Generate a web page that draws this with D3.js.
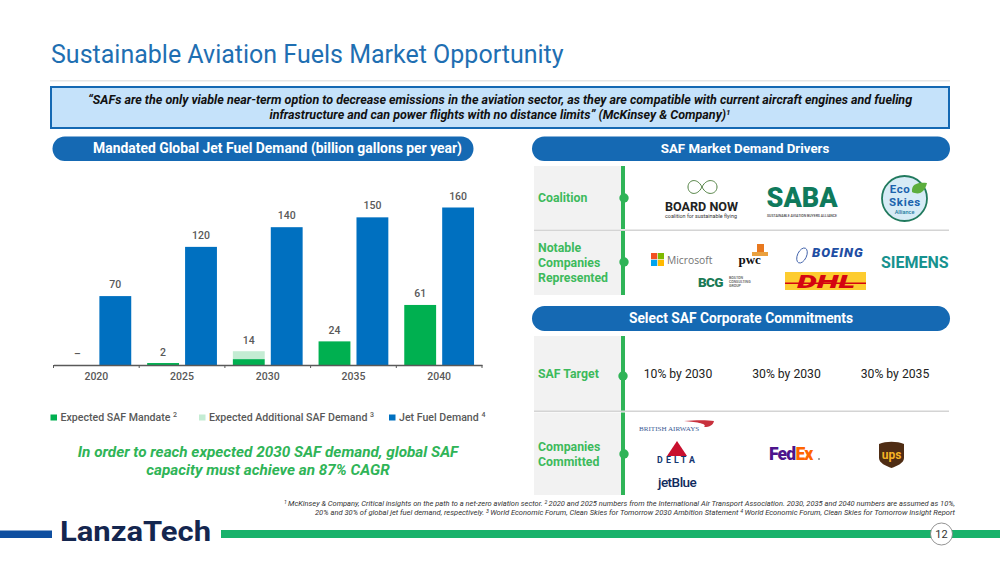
<!DOCTYPE html>
<html>
<head>
<meta charset="utf-8">
<script src="https://cdn.jsdelivr.net/npm/d3@7"></script>
<style>
  html, body { margin: 0; padding: 0; background: #fff; }
  svg { display: block; font-family: Roboto, sans-serif; }
</style>
</head>
<body>
<svg id="slide" width="1000" height="562"></svg>
<script>
// --- chart data
const YEARS = ['2020', '2025', '2030', '2035', '2040'];
const SAF_MANDATE = [0, 2, 6, 24, 61];
const SAF_ADDITIONAL = [0, 0, 8, 0, 0];
const JET_FUEL = [70, 120, 140, 150, 160];
const LEGEND_LABELS = ['Expected SAF Mandate', 'Expected Additional SAF Demand', 'Jet Fuel Demand'];
const LEGEND_NOTES = ['2', '3', '4'];
const TARGETS = ['10% by 2030', '30% by 2030', '30% by 2035'];

const BLUE = '#1569b3';
const BAR_BLUE = '#0070c0';
const BAR_GREEN = '#00b050';
const BAR_LIGHT = '#c4ecd3';
const LABEL_GREEN = '#3dba5c';
const GREY_TEXT = '#595959';

const svg = d3.select('#slide');

drawHeader();
drawChart();
drawDrivers();
drawCommitments();
drawFooter();

function addText(parent, str, x, y, size, fill, opts = {}) {
    return parent.append('text')
        .attr('x', x)
        .attr('y', y)
        .attr('font-size', size)
        .attr('fill', fill)
        .attr('text-anchor', opts.anchor || 'start')
        .attr('font-weight', opts.weight || 400)
        .attr('font-style', opts.style || 'normal')
        .attr('font-family', opts.family || null)
        .attr('letter-spacing', opts.spacing || null)
        .text(str);
}

function addPill(x, y, w, h, label, size, textX) {
    svg.append('rect')
        .attr('x', x).attr('y', y).attr('width', w).attr('height', h)
        .attr('rx', h / 2)
        .attr('fill', BLUE);
    addText(svg, label, textX, y + h / 2 + 4.5, size, '#fff', { anchor: 'middle', weight: 700 });
}

function drawHeader() {
    addText(svg, 'Sustainable Aviation Fuels Market Opportunity', 51, 63, 25, '#1f6fb2');
    svg.append('rect').attr('x', 50).attr('y', 80).attr('width', 900).attr('height', 1.5).attr('fill', '#e6e6e6');

    svg.append('rect')
        .attr('x', 51).attr('y', 87).attr('width', 898).attr('height', 41)
        .attr('fill', '#c5e2fa')
        .attr('stroke', BLUE)
        .attr('stroke-width', 2);

    addText(svg, '“SAFs are the only viable near-term option to decrease emissions in the aviation sector, as they are compatible with current aircraft engines and fueling',
        500, 104, 12.5, '#111', { anchor: 'middle', weight: 700, style: 'italic' });
    let second = addText(svg, 'infrastructure and can power flights with no distance limits” (McKinsey & Company)',
        500, 119, 12.5, '#111', { anchor: 'middle', weight: 700, style: 'italic' });
    second.append('tspan').attr('font-size', 8).attr('dy', -4).text('1');

    addPill(52.5, 136.5, 421, 24.5, 'Mandated Global Jet Fuel Demand (billion gallons per year)', 13.9, 277.5);
    addPill(532, 136.5, 418, 24.5, 'SAF Market Demand Drivers', 13.3, 745);
    addPill(532, 306, 418, 25, 'Select SAF Corporate Commitments', 13.8, 741);
}

function drawChart() {
    const axisY = 365;

    const x = d3.scaleBand()
        .domain(YEARS)
        .range([53.5, 482]);

    const inner = d3.scaleBand()
        .domain(['saf', 'jet'])
        .range([0, x.bandwidth()])
        .paddingInner(0.16)
        .paddingOuter(0.21);

    const y = d3.scaleLinear()
        .domain([0, 160])
        .range([axisY, 207.5]);

    const rows = YEARS.map((year, i) => ({
        year,
        mandate: SAF_MANDATE[i],
        additional: SAF_ADDITIONAL[i],
        jet: JET_FUEL[i]
    }));

    const stack = d3.stack().keys(['mandate', 'additional'])(rows);
    const stackColors = [BAR_GREEN, BAR_LIGHT];

    let g = svg.append('g').attr('class', 'chart');

    g.selectAll('g.saf')
        .data(stack)
        .enter()
        .append('g')
        .attr('class', 'saf')
        .attr('fill', (d, i) => stackColors[i])
        .selectAll('rect')
        .data(d => d)
        .enter()
        .append('rect')
        .attr('x', d => x(d.data.year) + inner('saf'))
        .attr('width', inner.bandwidth())
        .attr('y', d => y(d[1]))
        .attr('height', d => y(d[0]) - y(d[1]));

    g.selectAll('rect.jet')
        .data(rows)
        .enter()
        .append('rect')
        .attr('class', 'jet')
        .attr('fill', BAR_BLUE)
        .attr('x', d => x(d.year) + inner('jet'))
        .attr('width', inner.bandwidth())
        .attr('y', d => y(d.jet))
        .attr('height', d => y(0) - y(d.jet));

    // --- value labels
    g.selectAll('text.safLabel')
        .data(rows)
        .enter()
        .append('text')
        .attr('class', 'safLabel')
        .attr('x', d => x(d.year) + inner('saf') + inner.bandwidth() / 2)
        .attr('y', d => y(d.mandate + d.additional) - 7.5)
        .attr('text-anchor', 'middle')
        .attr('font-size', 10.5)
        .attr('font-weight', 500)
        .attr('fill', GREY_TEXT)
        .text(d => (d.mandate + d.additional) === 0 ? '–' : d.mandate + d.additional);

    g.selectAll('text.jetLabel')
        .data(rows)
        .enter()
        .append('text')
        .attr('class', 'jetLabel')
        .attr('x', d => x(d.year) + inner('jet') + inner.bandwidth() / 2)
        .attr('y', d => y(d.jet) - 8)
        .attr('text-anchor', 'middle')
        .attr('font-size', 10.5)
        .attr('font-weight', 500)
        .attr('fill', GREY_TEXT)
        .text(d => d.jet);

    // --- axis, ticks sit on the band edges
    let axis = g.append('g')
        .attr('transform', `translate(0, ${axisY})`)
        .call(d3.axisBottom(x).tickSize(0).tickPadding(8));
    axis.select('.domain').attr('stroke', '#595959').attr('stroke-width', 1.5);
    axis.selectAll('text')
        .attr('font-family', 'Roboto, sans-serif')
        .attr('font-size', 10.5)
        .attr('font-weight', 500)
        .attr('fill', GREY_TEXT);
    axis.selectAll('line.edge')
        .data(d3.range(YEARS.length + 1))
        .enter()
        .append('line')
        .attr('class', 'edge')
        .attr('x1', i => x.range()[0] + i * x.step())
        .attr('x2', i => x.range()[0] + i * x.step())
        .attr('y1', 0)
        .attr('y2', 3)
        .attr('stroke', '#595959')
        .attr('stroke-width', 1);

    // --- legend
    const legendX = [50.5, 199, 389];
    const legendColors = [BAR_GREEN, BAR_LIGHT, BAR_BLUE];
    LEGEND_LABELS.forEach((label, i) => {
        g.append('rect')
            .attr('x', legendX[i]).attr('y', 414.5).attr('width', 6.5).attr('height', 6)
            .attr('fill', legendColors[i]);
        let t = addText(g, label + ' ', legendX[i] + 10, 421, 10.6, GREY_TEXT, { weight: 500 });
        t.append('tspan').attr('font-size', 7).attr('dy', -4).text(LEGEND_NOTES[i]);
    });

    addText(svg, 'In order to reach expected 2030 SAF demand, global SAF', 268, 456.5, 15.3, '#2fb457',
        { anchor: 'middle', weight: 700, style: 'italic' });
    addText(svg, 'capacity must achieve an 87% CAGR', 268, 475, 15.3, '#2fb457',
        { anchor: 'middle', weight: 700, style: 'italic' });
}

function addRowPanel(y, h, dotX, dotY, lines, firstBaseline) {
    svg.append('rect').attr('x', 534).attr('y', y).attr('width', 87).attr('height', h).attr('fill', '#f2f2f2');
    svg.append('rect').attr('x', 621).attr('y', y).attr('width', 4).attr('height', h).attr('fill', '#2fb457');
    svg.append('circle').attr('cx', dotX).attr('cy', dotY).attr('r', 4.7).attr('fill', '#2fb457');
    lines.forEach((line, i) => {
        addText(svg, line, 538, firstBaseline + i * 15, 12.3, LABEL_GREEN, { weight: 700 });
    });
}

function addSeparator(y) {
    svg.append('rect').attr('x', 534).attr('y', y).attr('width', 415).attr('height', 1.5).attr('fill', '#d4d4d4');
}

function drawDrivers() {
    addRowPanel(166, 63, 624, 198, ['Coalition'], 202);
    addRowPanel(231, 64, 624, 262, ['Notable', 'Companies', 'Represented'], 252);
    addSeparator(229.5);

    // --- board now
    svg.append('path')
        .attr('d', 'M702 187 C697 177 688 180 688 187 C688 194 697 197 702 187 C707 177 717 180 717 187 C717 194 707 197 702 187')
        .attr('fill', 'none')
        .attr('stroke', '#4f7f3f')
        .attr('stroke-width', 1);
    addText(svg, 'BOARD NOW', 665, 211, 12.6, '#222', { weight: 700 });
    addText(svg, 'coalition for sustainable flying', 665, 218, 5.4, '#333');

    // --- saba
    addText(svg, 'SABA', 766.5, 207, 27, '#0f7a5c', { weight: 900 });
    addText(svg, 'SUSTAINABLE AVIATION BUYERS ALLIANCE', 767, 216.5, 3.5, '#444', { weight: 500 });

    // --- eco skies
    svg.append('circle')
        .attr('cx', 904.5).attr('cy', 198.5).attr('r', 22.5)
        .attr('fill', '#d6ebf6')
        .attr('stroke', '#217a5e')
        .attr('stroke-width', 1.8);
    svg.append('path').attr('d', 'M912 192 C911 184 918 182 927 183 C925 191 920 196 912 192').attr('fill', '#5cae3d');
    addText(svg, 'Eco', 900, 192.5, 11.5, '#1b63ad', { anchor: 'middle', weight: 700, spacing: 0.5 });
    addText(svg, 'Skies', 905, 206, 11.5, '#1b63ad', { anchor: 'middle', weight: 700, spacing: 0.7 });
    addText(svg, 'Alliance', 904.5, 214, 5.5, '#1b7a9f', { anchor: 'middle', weight: 500 });

    // --- microsoft
    const msColors = ['#f25022', '#7fba00', '#00a4ef', '#ffb900'];
    msColors.forEach((color, i) => {
        svg.append('rect')
            .attr('x', 651 + (i % 2) * 6.8).attr('y', 253 + Math.floor(i / 2) * 6.8)
            .attr('width', 6.2).attr('height', 6.2)
            .attr('fill', color);
    });
    addText(svg, 'Microsoft', 667, 264, 10.3, '#737373', { family: '"Open Sans", sans-serif' });

    // --- pwc
    svg.append('rect').attr('x', 757).attr('y', 244).attr('width', 7).attr('height', 9).attr('fill', '#e8781f');
    svg.append('rect').attr('x', 752).attr('y', 252).attr('width', 16).attr('height', 4).attr('fill', '#eaa13f');
    addText(svg, 'pwc', 738.5, 264, 13, '#111', { weight: 700, family: '"Liberation Serif", serif' });

    // --- boeing
    svg.append('ellipse')
        .attr('cx', 802).attr('cy', 255.5).attr('rx', 4.5).attr('ry', 8)
        .attr('transform', 'rotate(25 802 255.5)')
        .attr('fill', 'none')
        .attr('stroke', '#2a4fa0')
        .attr('stroke-width', 0.8);
    addText(svg, 'BOEING', 812, 256.5, 13.2, '#1f4ea3', { weight: 900, style: 'italic', spacing: 1 });

    // --- dhl
    svg.append('rect').attr('x', 785).attr('y', 272).attr('width', 81).attr('height', 18).attr('fill', '#fdcc2f');
    svg.append('rect').attr('x', 785).attr('y', 282.5).attr('width', 81).attr('height', 1.5).attr('fill', '#d40511');
    addText(svg, 'DHL', 797, 287.5, 18, '#d40511', { weight: 900, style: 'italic' })
        .attr('textLength', 58)
        .attr('lengthAdjust', 'spacingAndGlyphs');

    // --- bcg
    addText(svg, 'BCG', 698, 287, 13.5, '#1a7a55', { weight: 900, spacing: -0.6 });
    ['BOSTON', 'CONSULTING', 'GROUP'].forEach((line, i) => {
        addText(svg, line, 729, 278.5 + i * 4.3, 3.6, '#555', { weight: 500 });
    });

    addText(svg, 'SIEMENS', 881, 268, 16, '#17928f', { weight: 700 });
}

function drawCommitments() {
    addRowPanel(336, 75, 623, 376, ['SAF Target'], 378);
    addRowPanel(412.5, 82.5, 624, 454, ['Companies', 'Committed'], 450.5);
    addSeparator(410.5);

    const targetX = [678, 786.5, 895];
    TARGETS.forEach((label, i) => {
        addText(svg, label, targetX[i], 378, 12.2, '#222', { anchor: 'middle' });
    });

    // --- british airways
    svg.append('path')
        .attr('d', 'M684 421 C695 420 708 420 714 421 C713 425 710 427 704 427 C708 424 698 422 684 421')
        .attr('fill', '#c8313c');
    addText(svg, 'BRITISH AIRWAYS', 639, 431, 7.1, '#3b5b94', { weight: 500, family: '"Liberation Serif", serif' });

    // --- delta
    svg.append('path').attr('d', 'M677 441 L667 456 L687 456 Z').attr('fill', '#c8102e');
    addText(svg, 'DELTA', 677.5, 463, 8.8, '#12366f', { anchor: 'middle', weight: 700, spacing: 3.1 });

    // --- jetblue
    addText(svg, 'jetBlue', 658, 486.5, 13.5, '#102a5c', { weight: 500, spacing: -0.5 });

    // --- fedex
    let fedex = addText(svg, 'Fed', 769, 460, 17.5, '#4d148c', { weight: 900, spacing: -0.8 });
    fedex.append('tspan').attr('fill', '#ff6600').text('Ex');
    svg.append('circle').attr('cx', 819).attr('cy', 459).attr('r', 1).attr('fill', '#888');

    // --- ups
    svg.append('path')
        .attr('d', 'M879 444 C886 441 897 441 904 444 L904 458 C904 463 897 466 891.5 468 C886 466 879 463 879 458 Z')
        .attr('fill', '#4f2d14');
    addText(svg, 'ups', 891.5, 459, 12, '#f5b324', { anchor: 'middle', weight: 700 });
}

function drawFooter() {
    const noteSize = 7.2;
    let line1 = svg.append('text')
        .attr('x', 284).attr('y', 506)
        .attr('font-size', noteSize)
        .attr('font-style', 'italic')
        .attr('fill', '#333')
        .attr('textLength', 671)
        .attr('lengthAdjust', 'spacingAndGlyphs');
    line1.append('tspan').attr('font-size', 5).attr('dy', -2).text('1 ');
    line1.append('tspan').attr('dy', 2).text('McKinsey & Company, Critical insights on the path to a net-zero aviation sector. ');
    line1.append('tspan').attr('font-size', 5).attr('dy', -2).text('2 ');
    line1.append('tspan').attr('dy', 2).text('2020 and 2025 numbers from the International Air Transport Association. 2030, 2035 and 2040 numbers are assumed as 10%,');

    let line2 = svg.append('text')
        .attr('x', 315).attr('y', 515)
        .attr('font-size', noteSize)
        .attr('font-style', 'italic')
        .attr('fill', '#333')
        .attr('textLength', 640)
        .attr('lengthAdjust', 'spacingAndGlyphs');
    line2.append('tspan').text('20% and 30% of global jet fuel demand, respectively.  ');
    line2.append('tspan').attr('font-size', 5).attr('dy', -2).text('3 ');
    line2.append('tspan').attr('dy', 2).text('World Economic Forum, Clean Skies for Tomorrow 2030 Ambition Statement  ');
    line2.append('tspan').attr('font-size', 5).attr('dy', -2).text('4 ');
    line2.append('tspan').attr('dy', 2).text('World Economic Forum, Clean Skies for Tomorrow Insight Report');

    svg.append('rect').attr('x', 0).attr('y', 530.5).attr('width', 52).attr('height', 7.5).attr('fill', '#0f4fa0');
    svg.append('rect').attr('x', 221).attr('y', 530).attr('width', 779).attr('height', 8).attr('fill', '#19b26b');

    addText(svg, 'LanzaTech', 60, 540.5, 28.5, '#14264f', { weight: 700 })
        .attr('textLength', 151)
        .attr('lengthAdjust', 'spacingAndGlyphs');

    svg.append('circle')
        .attr('cx', 941.5).attr('cy', 534).attr('r', 11)
        .attr('fill', '#fff')
        .attr('stroke', '#777')
        .attr('stroke-width', 0.8);
    addText(svg, '12', 941.5, 538, 11, '#333', { anchor: 'middle' });
}
</script>
</body>
</html>
